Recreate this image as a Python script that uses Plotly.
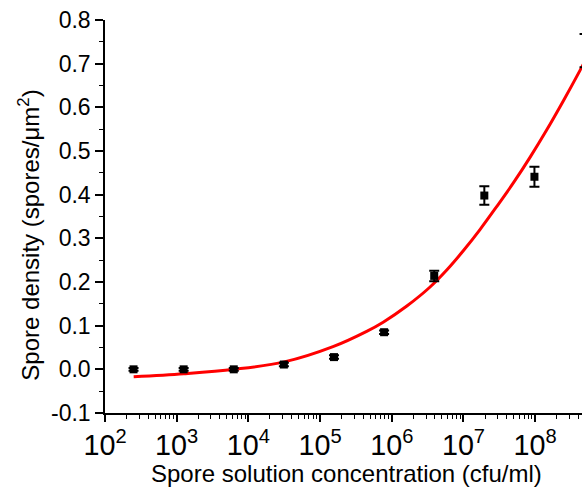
import plotly.graph_objects as go

# Measured data points (concentration in cfu/ml, spore density)
conc = [250, 1250, 6250, 31250, 156250, 781250, 3906250, 19531250, 97656250, 488281250]
density = [0.000, 0.000, 0.000, 0.011, 0.028, 0.085, 0.214, 0.398, 0.441, 0.730]
density_err = [0.003, 0.003, 0.003, 0.004, 0.004, 0.004, 0.012, 0.021, 0.023, 0.038]

# Fit curve (log10 concentration, density)
fit_logx = [2.40, 3.10, 3.80, 4.50, 5.18, 5.65, 5.88, 6.21, 6.53, 6.77, 7.00, 7.23,
            7.46, 7.70, 7.93, 8.16, 8.39, 8.62, 8.70]
fit_y = [-0.017, -0.010, 0.000, 0.017, 0.052, 0.087, 0.108, 0.145, 0.188, 0.228, 0.272, 0.320,
         0.372, 0.428, 0.486, 0.548, 0.614, 0.683, 0.708]
fit_x = [10 ** v for v in fit_logx]

# Y tick labels
y_ticks = [-0.1, 0.0, 0.1, 0.2, 0.3, 0.4, 0.5, 0.6, 0.7, 0.8]
y_tick_text = ["-0.1", "0.0", "0.1", "0.2", "0.3", "0.4", "0.5", "0.6", "0.7", "0.8"]

FONT = "Liberation Sans, Arial, sans-serif"

fig = go.Figure()
fig.add_trace(go.Scatter(
    x=fit_x, y=fit_y, mode="lines",
    line=dict(color="#ff0000", width=3, shape="spline", smoothing=1.0),
    showlegend=False, hoverinfo="skip",
))
fig.add_trace(go.Scatter(
    x=conc, y=density, mode="markers",
    marker=dict(symbol="square", size=8, color="black"),
    error_y=dict(type="data", array=density_err, visible=True,
                 color="black", thickness=2, width=5),
    showlegend=False, cliponaxis=False,
))

fig.update_layout(
    width=582, height=489,
    margin=dict(l=105, r=0, t=20, b=76),
    paper_bgcolor="white", plot_bgcolor="white",
    font=dict(family=FONT, size=23, color="black"),
    xaxis=dict(
        type="log", range=[2, 8.653], dtick=1, exponentformat="power",
        showline=True, linecolor="black", linewidth=1.5,
        ticks="outside", ticklen=7, tickwidth=1.5, tickcolor="black",
        showgrid=False, zeroline=False,
        minor=dict(ticks="outside", ticklen=4, tickwidth=1.2, tickcolor="black",
                   dtick="D1", showgrid=False),
    ),
    yaxis=dict(
        range=[-0.1, 0.8], tickmode="array", tickvals=y_ticks, ticktext=y_tick_text,
        showline=True, linecolor="black", linewidth=1.5,
        ticks="outside", ticklen=8, tickwidth=1.5, tickcolor="black",
        showgrid=False, zeroline=False,
        minor=dict(ticks="outside", ticklen=4, tickwidth=1.2, tickcolor="black",
                   tickvals=[-0.05, 0.05, 0.15, 0.25, 0.35, 0.45, 0.55, 0.65, 0.75],
                   showgrid=False),
    ),
    annotations=[
        dict(text="Spore density (spores/μm<sup>2</sup>)", textangle=-90,
             xref="paper", yref="paper", x=-0.16, y=0.453,
             xanchor="center", yanchor="middle", showarrow=False,
             font=dict(family=FONT, size=24, color="black")),
        dict(text="Spore solution concentration (cfu/ml)",
             xref="paper", yref="paper", x=0.506, y=-0.153,
             xanchor="center", yanchor="middle", showarrow=False,
             font=dict(family=FONT, size=24, color="black")),
    ],
)

fig.write_html("out.html")
